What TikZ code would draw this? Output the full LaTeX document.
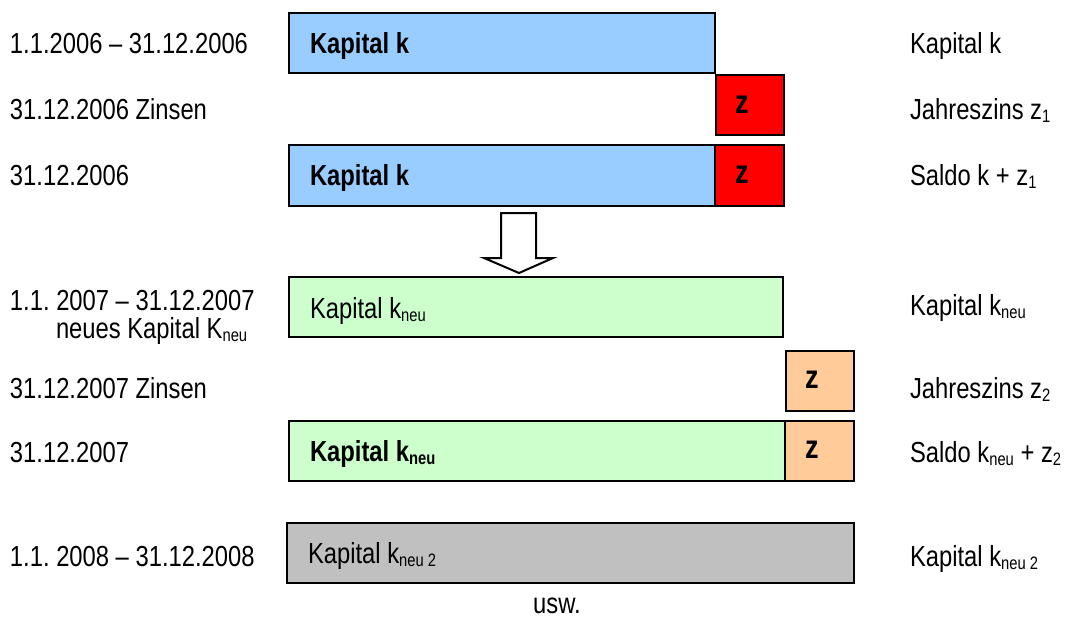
\documentclass[tikz,border=0pt]{standalone}
\usepackage{fontspec}
\setmainfont{Liberation Sans}[FakeStretch=0.82]
\usetikzlibrary{fit}
\frenchspacing
\newcommand\lowsub[1]{\raisebox{-1.6pt}{\fontsize{9}{9}\selectfont #1}}
\definecolor{kblue}{HTML}{99CCFF}
\definecolor{kred}{HTML}{FF0000}
\definecolor{kgreen}{HTML}{CCFFCC}
\definecolor{korange}{HTML}{FFCC99}
\definecolor{kgray}{HTML}{C0C0C0}
\begin{document}
\begin{tikzpicture}[x=0.5pt,y=-0.5pt,
  every node/.style={font=\fontsize{14.5}{17}\selectfont\frenchspacing, inner sep=0pt, outer sep=0pt},
  bar/.style={draw=black, line width=1pt, inner sep=0pt},
  lbl/.style={anchor=base west},
  ztext/.style={anchor=base, font=\fontsize{16.5}{18}\selectfont\bfseries}]
\useasboundingbox (0,0) rectangle (1072,617);
% row 1
\node[bar, fill=kblue, fit={(289,13) (715,73)}] (b1) {};
\node[lbl] (b1t) at (310,53) {\textbf{Kapital k}};
\node[lbl] (l1) at (10,53) {1.1.2006 -- 31.12.2006};
\node[lbl] (r1) at (910,53) {Kapital k};
% row 2
\node[bar, fill=kred, fit={(716,75) (784,135)}] (z1) {};
\node[ztext] (z1t) at (742,113) {z};
\node[lbl] (l2) at (10,119) {31.12.2006 Zinsen};
\node[lbl] (r2) at (910,119) {Jahreszins z\lowsub{1}};
% row 3
\node[bar, fill=kblue, fit={(289,145) (715,206)}] (b3) {};
\node[bar, fill=kred, fit={(715,145) (784,206)}] (z3) {};
\node[lbl] (b3t) at (310,185) {\textbf{Kapital k}};
\node[ztext] (z3t) at (742,183) {z};
\node[lbl] (l3) at (10,185) {31.12.2006};
\node[lbl] (r3) at (910,185) {Saldo k + z\lowsub{1}};
% arrow
\draw[line width=1pt, fill=white, line join=miter]
  (501,213) -- (536,213) -- (536,258) -- (553,258) -- (519,273) -- (484,258) -- (501,258) -- cycle;
% row 4
\node[bar, fill=kgreen, fit={(289,277) (783,337)}] (g4) {};
\node[lbl] (g4t) at (310,318) {Kapital k\lowsub{neu}};
\node[lbl] (l4a) at (10,310) {1.1. 2007 -- 31.12.2007};
\node[lbl] (l4b) at (56,338) {neues Kapital K\lowsub{neu}};
\node[lbl] (r4) at (910,315) {Kapital k\lowsub{neu}};
% row 5
\node[bar, fill=korange, fit={(786,351) (854,411)}] (z5) {};
\node[ztext] (z5t) at (812,388) {z};
\node[lbl] (l5) at (10,398) {31.12.2007 Zinsen};
\node[lbl] (r5) at (910,398) {Jahreszins z\lowsub{2}};
% row 6
\node[bar, fill=kgreen, fit={(289,421) (785,481)}] (g6) {};
\node[bar, fill=korange, fit={(785,421) (854,481)}] (z6) {};
\node[lbl] (g6t) at (310,461) {\textbf{Kapital k\lowsub{neu}}};
\node[ztext] (z6t) at (812,458) {z};
\node[lbl] (l6) at (10,462) {31.12.2007};
\node[lbl] (r6) at (910,462) {Saldo k\lowsub{neu} + z\lowsub{2}};
% row 7
\node[bar, fill=kgray, fit={(287,523) (854,583)}] (g7) {};
\node[lbl] (g7t) at (308,563) {Kapital k\lowsub{neu 2}};
\node[lbl] (l7) at (10,566) {1.1. 2008 -- 31.12.2008};
\node[lbl] (r7) at (910,566) {Kapital k\lowsub{neu 2}};
% usw
\node[anchor=base] (usw) at (557,613) {usw.};
\end{tikzpicture}
\end{document}
